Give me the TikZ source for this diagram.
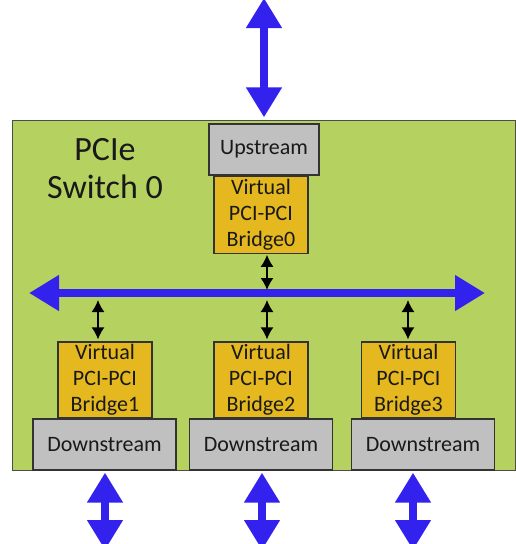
\documentclass[tikz,border=0pt]{standalone}
\usepackage{fontspec}
\setmainfont{Carlito}
\usepackage{xcolor}
\usetikzlibrary{arrows,arrows.meta,positioning,calc}

\definecolor{switchgreen}{RGB}{181,209,96}
\definecolor{bridgegold}{RGB}{228,184,30}
\definecolor{portgray}{RGB}{192,192,192}
\definecolor{linkblue}{RGB}{51,34,238}

\begin{document}
\begin{tikzpicture}[x=1pt,y=-1pt]
    \tikzstyle{box}=[draw=black!80,line width=1.2pt,inner sep=0pt,align=center,
      text=black!90,font=\fontsize{22}{26}\selectfont]
    \tikzstyle{port}=[box,fill=portgray,minimum width=143pt,minimum height=51pt]
    \tikzstyle{bridge}=[box,fill=bridgegold,minimum width=94pt,minimum height=77pt]
    \tikzstyle{link}=[linkblue,line width=8pt,
      {Triangle[width=34pt,length=30pt]}-{Triangle[width=34pt,length=30pt]}]
    \tikzstyle{cfg}=[black,line width=1.5pt,{Latex[width=13pt,length=12pt]}-{Latex[width=13pt,length=12pt]}]

    \useasboundingbox (0,0) rectangle (516,544);

    \node[draw=black!70,fill=switchgreen,line width=1pt,minimum width=503pt,
      minimum height=350pt] (switch) at (263.5,295) {};

    \node[text=black!90,align=center,font=\fontsize{34}{38}\selectfont]
      (name) at (105,169) {PCIe\\Switch 0};

    \node[port,minimum width=110pt] (up) at (264,149.5) {Upstream};
    \node[bridge,below=0pt of up,xshift=-3pt] (br0) {Virtual\\PCI-PCI\\Bridge0};

    \node[bridge,minimum height=76pt] (br1) at (105,380) {Virtual\\PCI-PCI\\Bridge1};
    \node[bridge,minimum height=76pt] (br2) at (261,380) {Virtual\\PCI-PCI\\Bridge2};
    \node[bridge,minimum height=76pt] (br3) at (408.5,380) {Virtual\\PCI-PCI\\Bridge3};

    \node[port] (ds1) at (104.5,444.5) {Downstream};
    \node[port] (ds2) at (261,444.5) {Downstream};
    \node[port] (ds3) at (423,444.5) {Downstream};

    % internal bus
    \coordinate (busL) at (29,293);
    \coordinate (busR) at (485,293);
    \draw[link] (busL) -- (busR);

    % external links
    \coordinate (host) at (264,-2);
    \draw[link] (host) -- ([yshift=6pt]up.north);

    \coordinate (dev1) at (105,550);
    \coordinate (dev2) at (262,550);
    \coordinate (dev3) at (413,550);
    \draw[link] (ds1.south -| dev1) ++(0,2) -- (dev1);
    \draw[link] (ds2.south -| dev2) ++(0,2) -- (dev2);
    \draw[link] (ds3.south -| dev3) ++(0,2) -- (dev3);

    % bridge to bus
    \draw[cfg] ([xshift=6pt,yshift=-1pt]br0.south) -- ([xshift=6pt,yshift=3pt]br0.south |- busL);
    \draw[cfg] ([xshift=-7pt,yshift=2pt]br1.north) -- ([xshift=-7pt,yshift=-7pt]br1.north |- busL);
    \draw[cfg] ([xshift=6pt,yshift=2pt]br2.north) -- ([xshift=6pt,yshift=-7pt]br2.north |- busL);
    \draw[cfg] ([xshift=-0.5pt,yshift=2pt]br3.north) -- ([xshift=-0.5pt,yshift=-7pt]br3.north |- busL);
\end{tikzpicture}
\end{document}
